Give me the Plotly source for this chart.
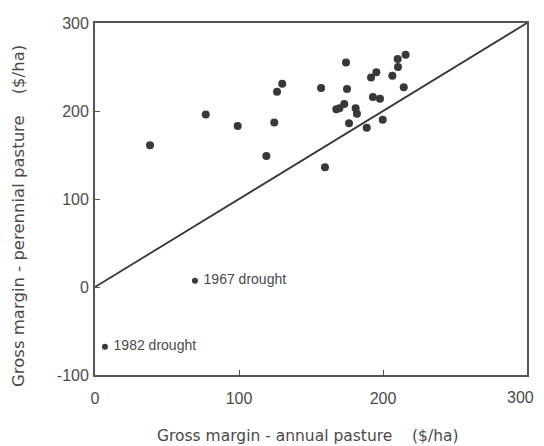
import plotly.graph_objects as go

# Gross margins ($/ha): annual pasture (x) vs perennial pasture (y)
annual = [38.2, 76.9, 99.1, 119.0, 124.5, 126.4, 130.0, 157.0, 159.7, 174.3,
          175.0, 167.6, 169.7, 173.1, 181.0, 181.9, 176.4, 188.7, 191.7, 195.4,
          193.0, 197.9, 199.8, 206.5, 210.2, 210.4, 215.7, 214.4]
perennial = [161, 196, 183, 149, 187, 222, 231, 226, 136, 255,
             225, 202, 203, 208, 203, 197, 186, 181, 238, 244,
             216, 214, 190, 240, 259, 250, 264, 227]

drought_labels = ["1967 drought", "1982 drought"]
drought_annual = [69.4, 6.9]
drought_perennial = [7, -68]

line_x = [0, 300]
line_y = [0, 300]

tick_vals = [-100, 0, 100, 200, 300]
tick_text = ["-100", "0", "100", "200", "300"]
xtick_vals = [0, 100, 200, 300]
xtick_text = ["0", "100", "200", "300"]

FONT = "Liberation Sans, Arial, sans-serif"
TFONT = "DejaVu Sans, sans-serif"
ink = "#383838"
txt = "#4a4a4a"

# page body has an 8px margin; plot area in window: x 95..527, y 23..375
OFF = 8
W, H = 544 - 2 * OFF, 446 - OFF
L, R, T, B = 95 - OFF, 527 - OFF, 23 - OFF, 375 - OFF
PW, PH = R - L, B - T

fig = go.Figure()
fig.add_trace(go.Scatter(x=line_x, y=line_y, mode="lines",
                         line=dict(color=ink, width=1.8), hoverinfo="skip"))
fig.add_trace(go.Scatter(x=annual, y=perennial, mode="markers",
                         marker=dict(size=8, color=ink)))
fig.add_trace(go.Scatter(x=drought_annual, y=drought_perennial, mode="markers+text",
                         text=["&nbsp;" + t for t in drought_labels], textposition="middle right",
                         textfont=dict(family=FONT, size=14, color=txt),
                         marker=dict(size=6, color=ink)))

axis_common = dict(showgrid=False, zeroline=False, showline=True, mirror=True,
                   linecolor="#555555", linewidth=1.8, ticks="inside", ticklen=5,
                   tickcolor="#555555", tickwidth=1.2, automargin=False,
                   tickfont=dict(family=FONT, size=16, color=txt))

# last x tick label is right-anchored so it stays inside the page
annotations = [
    dict(text=xtick_text[-1], xref="x", yref="paper", x=xtick_vals[-1], y=-(397 - 375) / PH,
         xanchor="right", yanchor="middle", xshift=9, showarrow=False,
         font=dict(family=FONT, size=16, color=txt)),
    dict(text="Gross margin - annual pasture&nbsp;&nbsp;&nbsp;&nbsp;($/ha)",
         xref="paper", yref="paper", x=(308 - 95) / PW, y=-(436 - 375) / PH,
         xanchor="center", yanchor="middle", showarrow=False,
         font=dict(family=TFONT, size=15.5, color=txt)),
    dict(text="Gross margin - perennial pasture&nbsp;&nbsp;&nbsp;&nbsp;($/ha)",
         xref="paper", yref="paper", x=-(95 - 18) / PW, y=(375 - 216) / PH,
         xanchor="center", yanchor="middle", showarrow=False, textangle=-90,
         font=dict(family=TFONT, size=16.5, color=txt)),
]

fig.update_layout(
    width=W, height=H,
    margin=dict(l=L, r=W - R, t=T, b=H - B),
    paper_bgcolor="white", plot_bgcolor="white",
    showlegend=False,
    xaxis=dict(range=[0, 300], tickvals=xtick_vals[:-1], ticktext=xtick_text[:-1],
               ticklabelstandoff=8, **axis_common),
    yaxis=dict(range=[-100, 300], tickvals=tick_vals, ticktext=tick_text,
               ticklabelstandoff=1, **axis_common),
    annotations=annotations,
)
# keep the 300 tick mark itself
fig.update_xaxes(tickvals=xtick_vals, ticktext=xtick_text[:-1] + [""])

fig.write_html("out.html")
